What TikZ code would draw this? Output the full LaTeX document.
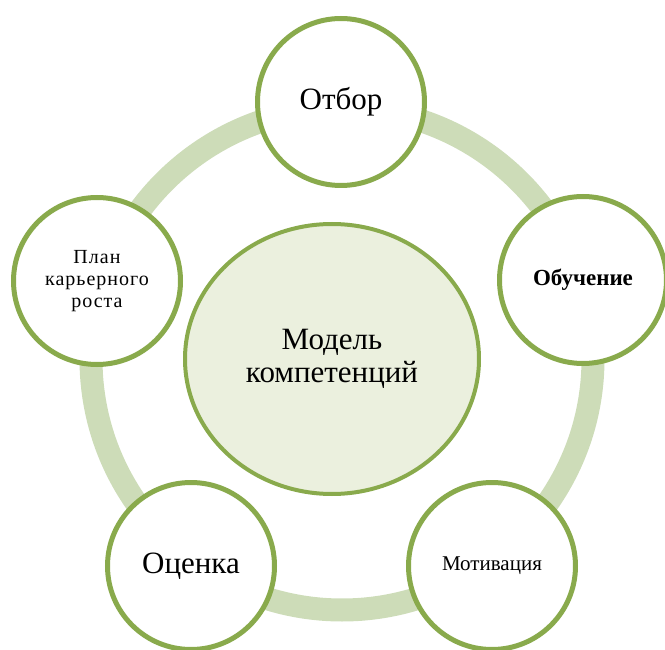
\documentclass[tikz,border=0pt]{standalone}
\usepackage{fontspec}
\setmainfont{Liberation Serif}
\usetikzlibrary{shapes.geometric}
\definecolor{ringgreen}{RGB}{205,220,184}
\definecolor{edgegreen}{RGB}{137,170,76}
\definecolor{corefill}{RGB}{235,240,222}
\begin{document}
\begin{tikzpicture}[x=1pt,y=-1pt,
  sat/.style={circle, draw=edgegreen, line width=5pt, fill=white,
    minimum size=167pt, inner sep=0pt, align=center},
  core/.style={ellipse, draw=edgegreen, line width=4pt, fill=corefill,
    minimum width=294pt, minimum height=270pt, inner sep=0pt, align=center},
  ring/.style={draw=ringgreen, line width=23pt}]
\useasboundingbox (0,0) rectangle (665,650);
\clip (0,0) rectangle (665,650);
\coordinate (ringc) at (342,359);
\draw[ring] (ringc) circle[radius=251pt];
\node[sat, font=\fontsize{31}{34}\selectfont] (otbor) at (341,102) {Отбор};
\node[sat, font=\fontsize{23}{26}\selectfont\bfseries] (obuch) at (583,280) {Обучение};
\node[sat, font=\fontsize{20}{22}\selectfont\addfontfeature{LetterSpace=5}] (plan) at (97,281) {План\\карьерного\\роста};
\node[sat, font=\fontsize{31}{34}\selectfont] (ocenka) at (191,566) {Оценка};
\node[sat, font=\fontsize{21}{24}\selectfont] (motiv) at (492,566) {Мотивация};
\node[core, font=\fontsize{31}{33}\selectfont] (model) at (332,359) {Модель\\компетенций};
\end{tikzpicture}
\end{document}
